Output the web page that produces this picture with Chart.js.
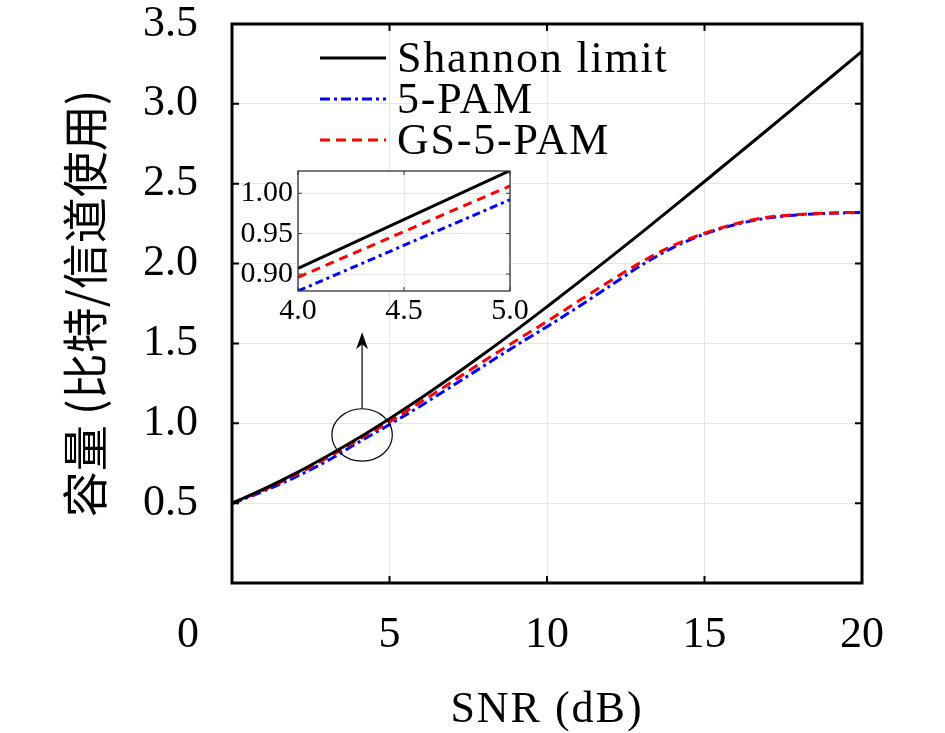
<!DOCTYPE html>
<html>
<head>
<meta charset="utf-8">
<script src="https://cdn.jsdelivr.net/npm/chart.js@4.4.1/dist/chart.umd.min.js"></script>
<style>
  body { margin: 0; background: #fff; }
  #wrap { position: relative; width: 945px; height: 733px; }
  #inset { position: absolute; left: 230px; top: 160px; }
</style>
</head>
<body>
<div id="wrap">
  <canvas id="migrafica" width="945" height="733"></canvas>
  <canvas id="inset" width="310" height="170"></canvas>
</div>
<script>
// valores
var snrDb = [0, 1, 2, 3, 4, 5, 6, 7, 8, 9, 10, 11, 12, 13, 14, 15, 16, 17, 18, 19, 20];
var shannon = [0.5, 0.588, 0.685, 0.792, 0.906, 1.029, 1.158, 1.294, 1.435, 1.58, 1.73,
  1.882, 2.037, 2.194, 2.353, 2.514, 2.676, 2.838, 3.001, 3.165, 3.329];
var pam5 = [0.497, 0.575, 0.662, 0.762, 0.879, 0.992, 1.11, 1.235, 1.36, 1.485, 1.605,
  1.73, 1.86, 1.99, 2.10, 2.185, 2.245, 2.285, 2.305, 2.315, 2.32];
var gsPam5 = [0.5, 0.582, 0.676, 0.781, 0.896, 1.009, 1.134, 1.262, 1.39, 1.515, 1.638,
  1.765, 1.89, 2.01, 2.112, 2.19, 2.25, 2.29, 2.308, 2.317, 2.321];
var xTicks = [5, 10, 15, 20];
var yTicks = [0.5, 1.0, 1.5, 2.0, 2.5, 3.0, 3.5];

// zoom (recuadro)
var insetSnr = [4.0, 5.0];
var insetShannon = [0.907, 1.028];
var insetPam5 = [0.879, 0.992];
var insetGsPam5 = [0.896, 1.009];
var insetXTicks = [4.0, 4.5, 5.0];
var insetYTicks = [0.90, 0.95, 1.00];

// elipse y flecha (en unidades de datos)
var marca = { x: 4.13, y: 0.927, rx: 0.96, ry: 0.164, flechaY: 1.57 };

var serif = "'Liberation Serif', 'DejaVu Serif', serif";
var dashPam = [10, 4, 3, 4];
var dashGs = [10, 6];

function puntos(xs, ys) {
  return xs.map((x, i) => ({ x: x, y: ys[i] }));
}

function ticksInternos(chart, xs, ys, largo, color, ancho) {
  const ctx = chart.ctx;
  const a = chart.chartArea;
  const sx = chart.scales.x;
  const sy = chart.scales.y;
  ctx.save();
  ctx.strokeStyle = color;
  ctx.lineWidth = ancho;
  ctx.beginPath();
  xs.forEach((v) => {
    const px = sx.getPixelForValue(v);
    ctx.moveTo(px, a.bottom); ctx.lineTo(px, a.bottom - largo);
    ctx.moveTo(px, a.top); ctx.lineTo(px, a.top + largo);
  });
  ys.forEach((v) => {
    const py = sy.getPixelForValue(v);
    ctx.moveTo(a.left, py); ctx.lineTo(a.left + largo, py);
    ctx.moveTo(a.right, py); ctx.lineTo(a.right - largo, py);
  });
  ctx.stroke();
  ctx.restore();
}

const extrasPrincipal = {
  id: "extrasPrincipal",
  afterDraw(chart) {
    const ctx = chart.ctx;
    const a = chart.chartArea;
    const sx = chart.scales.x;
    const sy = chart.scales.y;

    ticksInternos(chart, xTicks, yTicks, 7, "#000", 2);

    ctx.save();
    ctx.strokeStyle = "#000";
    ctx.lineWidth = 3;
    ctx.strokeRect(a.left, a.top, a.right - a.left, a.bottom - a.top);

    // etiqueta 0
    ctx.fillStyle = "#000";
    ctx.font = "44px " + serif;
    ctx.textAlign = "right";
    ctx.textBaseline = "middle";
    ctx.fillText("0", a.left - 33, a.bottom + 30 + 22);

    // titulo eje x
    ctx.textAlign = "center";
    ctx.letterSpacing = "2px";
    ctx.fillText("SNR (dB)", (a.left + a.right) / 2, 710);

    // leyenda
    const ds = chart.data.datasets;
    ctx.font = "44px " + serif;
    ctx.textAlign = "left";
    ctx.letterSpacing = "1.8px";
    ds.forEach((d, i) => {
      const ly = a.top + 34 + i * 41;
      const lx = a.left + 88;
      ctx.beginPath();
      ctx.setLineDash(d.borderDash || []);
      ctx.strokeStyle = d.borderColor;
      ctx.lineWidth = 3;
      ctx.moveTo(lx, ly);
      ctx.lineTo(lx + 66, ly);
      ctx.stroke();
      ctx.fillText(d.label, lx + 77, ly + 2);
    });
    ctx.setLineDash([]);
    ctx.letterSpacing = "0px";

    // elipse y flecha
    const cx = sx.getPixelForValue(marca.x);
    const cy = sy.getPixelForValue(marca.y);
    const rx = sx.getPixelForValue(marca.x + marca.rx) - cx;
    const ry = cy - sy.getPixelForValue(marca.y + marca.ry);
    ctx.strokeStyle = "#000";
    ctx.lineWidth = 1.2;
    ctx.beginPath();
    ctx.ellipse(cx, cy, rx, ry, 0, 0, Math.PI * 2);
    ctx.stroke();
    const tip = sy.getPixelForValue(marca.flechaY);
    ctx.beginPath();
    ctx.moveTo(cx, cy - ry);
    ctx.lineTo(cx, tip + 10);
    ctx.stroke();
    ctx.beginPath();
    ctx.moveTo(cx, tip);
    ctx.lineTo(cx + 6, tip + 17);
    ctx.lineTo(cx, tip + 12);
    ctx.lineTo(cx - 6, tip + 17);
    ctx.closePath();
    ctx.fillStyle = "#000";
    ctx.fill();
    ctx.restore();
  },
};

const graficaCapacidad = document.querySelector("#migrafica");
new Chart(graficaCapacidad, {
  type: "line",
  data: {
    datasets: [
      {
        label: "Shannon limit",
        data: puntos(snrDb, shannon),
        borderColor: "#000",
        borderWidth: 3,
        order: 0,
      },
      {
        label: "5-PAM",
        data: puntos(snrDb, pam5),
        borderColor: "#0000ff",
        borderWidth: 3,
        borderDash: dashPam,
        order: 2,
      },
      {
        label: "GS-5-PAM",
        data: puntos(snrDb, gsPam5),
        borderColor: "#ff0000",
        borderWidth: 3,
        borderDash: dashGs,
        order: 1,
      },
    ],
  },
  options: {
    responsive: false,
    animation: false,
    devicePixelRatio: 1,
    elements: { point: { radius: 0 }, line: { cubicInterpolationMode: "monotone" } },
    layout: { autoPadding: false, padding: { left: 0, right: 83, top: 24, bottom: 0 } },
    plugins: { legend: { display: false }, tooltip: { enabled: false } },
    scales: {
      x: {
        type: "linear",
        min: 0,
        max: 20,
        afterBuildTicks: (s) => { s.ticks = [0].concat(xTicks).map((v) => ({ value: v })); },
        afterFit: (s) => { s.height = 150; },
        border: { display: false },
        grid: { color: "#e6e6e6", lineWidth: 1, drawTicks: true, tickLength: 30, tickColor: "rgba(0,0,0,0)" },
        ticks: {
          padding: 0,
          color: "#000",
          maxRotation: 0,
          font: { family: serif, size: 44, lineHeight: 1 },
          callback: (v) => (v === 0 ? "" : String(v)),
        },
      },
      y: {
        type: "linear",
        min: 0,
        max: 3.5,
        afterBuildTicks: (s) => { s.ticks = yTicks.map((v) => ({ value: v })); },
        afterFit: (s) => { s.width = 232; },
        border: { display: false },
        grid: { color: "#e6e6e6", lineWidth: 1, drawTicks: true, tickLength: 34, tickColor: "rgba(0,0,0,0)" },
        ticks: {
          padding: 0,
          color: "#000",
          font: { family: serif, size: 44, lineHeight: 0.5 },
          callback: (v) => v.toFixed(1),
        },
        title: {
          display: true,
          text: "容量 (比特/信道使用)",
          color: "#000",
          font: { family: "'Noto Sans CJK SC', sans-serif", size: 46, lineHeight: 1.2 },
          padding: { top: 57, bottom: 0 },
        },
      },
    },
  },
  plugins: [extrasPrincipal],
});

//// recuadro de zoom
const extrasInset = {
  id: "extrasInset",
  beforeDraw(chart) {
    const a = chart.chartArea;
    chart.ctx.save();
    chart.ctx.fillStyle = "#fff";
    chart.ctx.fillRect(a.left, a.top, a.right - a.left, a.bottom - a.top);
    chart.ctx.restore();
  },
  afterDraw(chart) {
    const a = chart.chartArea;
    ticksInternos(chart, insetXTicks, insetYTicks, 4, "#333", 1);
    chart.ctx.save();
    chart.ctx.strokeStyle = "#333";
    chart.ctx.lineWidth = 1.3;
    chart.ctx.strokeRect(a.left, a.top, a.right - a.left, a.bottom - a.top);
    chart.ctx.restore();
  },
};

const graficaInset = document.querySelector("#inset");
new Chart(graficaInset, {
  type: "line",
  data: {
    datasets: [
      { label: "Shannon limit", data: puntos(insetSnr, insetShannon), borderColor: "#000", borderWidth: 3, order: 0 },
      { label: "5-PAM", data: puntos(insetSnr, insetPam5), borderColor: "#0000ff", borderWidth: 3, borderDash: [8, 4, 3, 4], order: 2 },
      { label: "GS-5-PAM", data: puntos(insetSnr, insetGsPam5), borderColor: "#ff0000", borderWidth: 3, borderDash: [9, 6], order: 1 },
    ],
  },
  options: {
    responsive: false,
    animation: false,
    devicePixelRatio: 1,
    elements: { point: { radius: 0 } },
    layout: { autoPadding: false, padding: { left: 0, right: 30, top: 11, bottom: 0 } },
    plugins: { legend: { display: false }, tooltip: { enabled: false } },
    scales: {
      x: {
        type: "linear",
        min: 4,
        max: 5,
        afterBuildTicks: (s) => { s.ticks = insetXTicks.map((v) => ({ value: v })); },
        afterFit: (s) => { s.height = 39; },
        border: { display: false },
        grid: { color: "#e6e6e6", lineWidth: 1, drawTicks: false },
        ticks: {
          padding: 4,
          color: "#000",
          maxRotation: 0,
          font: { family: serif, size: 30, lineHeight: 1.1 },
          callback: (v) => v.toFixed(1),
        },
      },
      y: {
        type: "linear",
        min: 0.879,
        max: 1.0275,
        afterBuildTicks: (s) => { s.ticks = insetYTicks.map((v) => ({ value: v })); },
        afterFit: (s) => { s.width = 68; },
        border: { display: false },
        grid: { color: "#e6e6e6", lineWidth: 1, drawTicks: true, tickLength: 5, tickColor: "rgba(0,0,0,0)" },
        ticks: {
          padding: 0,
          color: "#000",
          font: { family: serif, size: 30, lineHeight: 0.5 },
          callback: (v) => v.toFixed(2),
        },
      },
    },
  },
  plugins: [extrasInset],
});
</script>
</body>
</html>
